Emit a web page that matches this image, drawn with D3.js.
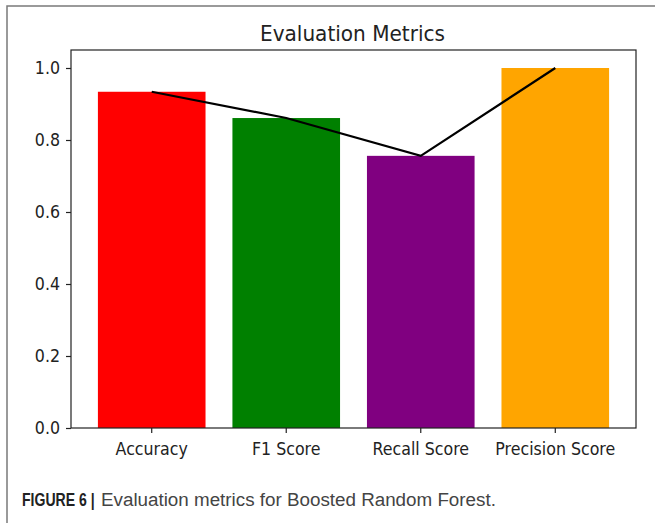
<!DOCTYPE html>
<html>
<head>
<meta charset="utf-8">
<script src="https://cdn.jsdelivr.net/npm/d3@7/dist/d3.min.js"></script>
<style>
  html, body { margin: 0; padding: 0; background: #fff; }
  svg { display: block; }
</style>
</head>
<body>
<svg id="chart" width="655" height="523"></svg>
<script>
const categories = ["Accuracy", "F1 Score", "Recall Score", "Precision Score"];
const scores = [0.934, 0.861, 0.756, 1.0];
const barColors = ["#ff0000", "#008000", "#800080", "#ffa500"];
const yTicks = [0.0, 0.2, 0.4, 0.6, 0.8, 1.0];
const titleText = "Evaluation Metrics";
const captionBold = "FIGURE 6 |";
const captionText = "Evaluation metrics for Boosted Random Forest.";

const svg = d3.select("#chart");
const W = 655, H = 523;
const plot = { left: 71, right: 636, top: 50, bottom: 428 };
const sx = 0.88;

// outer frame
svg.append("rect")
  .attr("x", 7).attr("y", 6)
  .attr("width", W + 10).attr("height", H + 10)
  .attr("fill", "none").attr("stroke", "#7a7a7a").attr("stroke-width", 1.5);

const x = d3.scaleBand()
  .domain(categories)
  .range([plot.left, plot.right])
  .paddingInner(0.2)
  .paddingOuter(0.2);

const y = d3.scaleLinear()
  .domain([0, 1.05])
  .range([plot.bottom, plot.top]);

const data = categories.map((c, i) => ({ c, v: scores[i], color: barColors[i] }));

// bars
svg.append("g").selectAll("rect")
  .data(data).join("rect")
  .attr("x", d => x(d.c))
  .attr("y", d => y(d.v))
  .attr("width", x.bandwidth())
  .attr("height", d => y(0) - y(d.v))
  .attr("fill", d => d.color);

// line
const line = d3.line()
  .x(d => x(d.c) + x.bandwidth() / 2)
  .y(d => y(d.v));
svg.append("path")
  .datum(data)
  .attr("d", line)
  .attr("fill", "none")
  .attr("stroke", "#000")
  .attr("stroke-width", 2.2);

// spines
svg.append("rect")
  .attr("x", plot.left).attr("y", plot.top)
  .attr("width", plot.right - plot.left).attr("height", plot.bottom - plot.top)
  .attr("fill", "none").attr("stroke", "#222").attr("stroke-width", 1.2);

// axes
const xAxis = d3.axisBottom(x).tickSize(5).tickPadding(9);
const gx = svg.append("g")
  .attr("transform", `translate(0,${plot.bottom})`)
  .call(xAxis);
gx.select(".domain").remove();
gx.selectAll("line").attr("stroke", "#222").attr("stroke-width", 1.2);
gx.selectAll("text")
  .attr("font-family", "DejaVu Sans")
  .attr("font-size", 18)
  .attr("fill", "#222")
  .attr("transform", `scale(${sx},1)`);

const yAxis = d3.axisLeft(y).tickValues(yTicks).tickFormat(d3.format(".1f")).tickSize(5).tickPadding(7);
const gy = svg.append("g")
  .attr("transform", `translate(${plot.left},0)`)
  .call(yAxis);
gy.select(".domain").remove();
gy.selectAll("line").attr("stroke", "#222").attr("stroke-width", 1.2);
gy.selectAll("text")
  .attr("font-family", "DejaVu Sans")
  .attr("font-size", 18)
  .attr("fill", "#222")
  .attr("x", -11 / sx)
  .attr("transform", `scale(${sx},1)`);

// title
svg.append("text")
  .attr("x", 260).attr("y", 41)
  .attr("font-family", "DejaVu Sans")
  .attr("font-size", 21)
  .attr("fill", "#222")
  .attr("textLength", 185)
  .attr("lengthAdjust", "spacingAndGlyphs")
  .text(titleText);

// caption
svg.append("text")
  .attr("transform", "translate(22,506) scale(0.74,1)")
  .attr("font-family", "Liberation Sans")
  .attr("font-weight", "bold")
  .attr("font-size", 19)
  .attr("fill", "#222")
  .text(captionBold);
svg.append("text")
  .attr("transform", "translate(101,506) scale(0.99,1)")
  .attr("font-family", "Liberation Sans")
  .attr("font-size", 19)
  .attr("fill", "#444")
  .text(captionText);
</script>
</body>
</html>
